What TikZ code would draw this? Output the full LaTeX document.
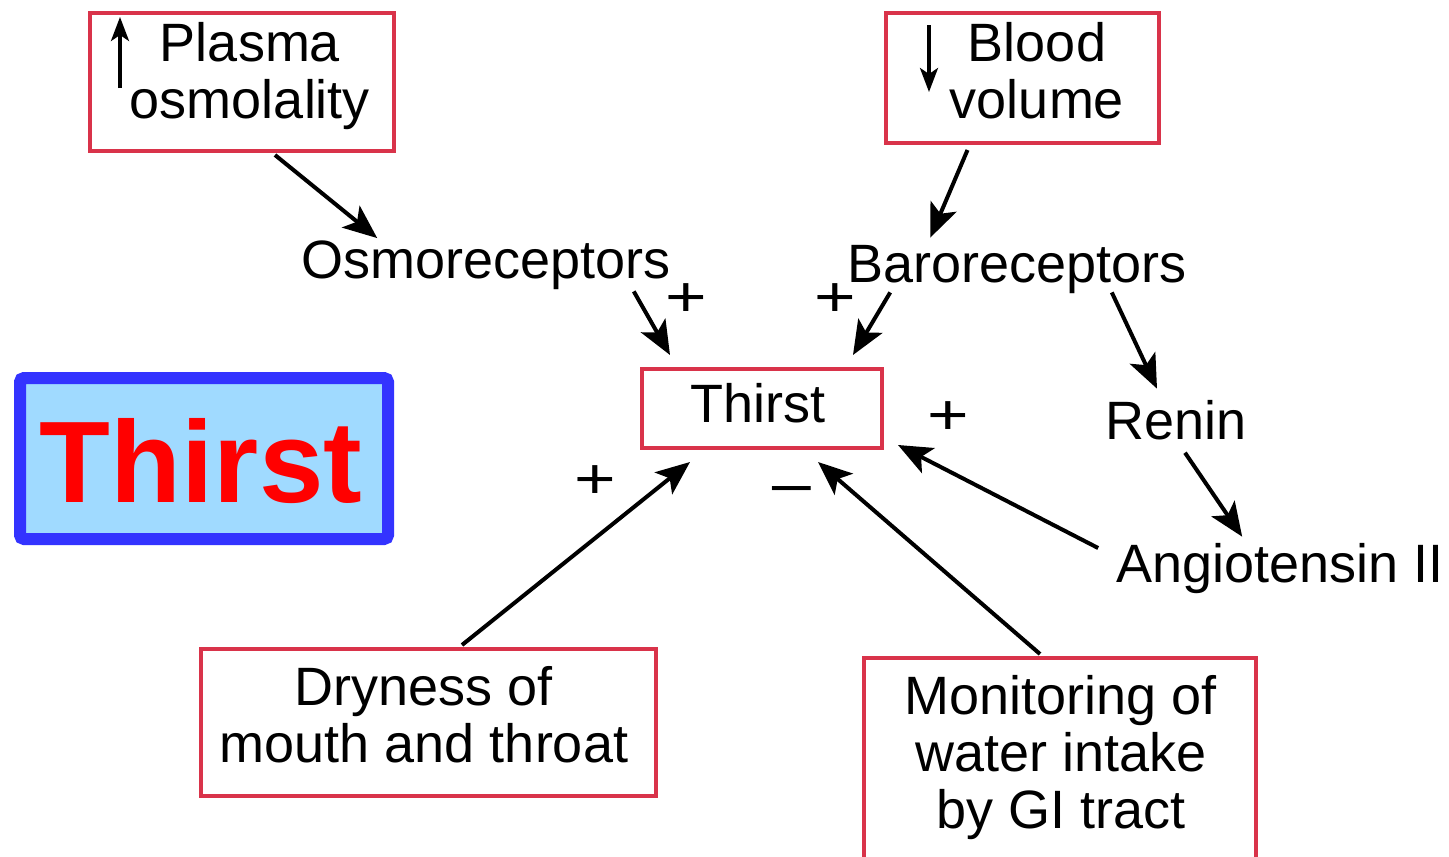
\documentclass[tikz,border=0pt]{standalone}
\usepackage{fontspec}
\setmainfont{Liberation Sans}
\usetikzlibrary{arrows.meta}
\definecolor{boxred}{RGB}{217,51,74}
\definecolor{panelblue}{RGB}{160,218,255}
\definecolor{edgeblue}{RGB}{51,51,255}

\begin{document}
\begin{tikzpicture}[x=1pt,y=-1pt,font=\fontsize{54}{57}\selectfont,
  box/.style={draw=boxred,line width=4pt,inner sep=0pt},
  txt/.style={inner sep=2pt,align=center},
  sgn/.style={inner sep=0pt,font=\fontsize{57}{57}\selectfont},
  arr/.style={line width=4pt,-{Stealth[length=34pt,width=28pt,inset=8pt]}},
  updown/.style={line width=3.5pt,-{Stealth[length=24pt,width=18pt,inset=6pt]}}]
  \useasboundingbox (0,0) rectangle (1449,857);
  \clip (0,0) rectangle (1449,857);
  % boxes
  \node[box,minimum width=304pt,minimum height=138pt] (plasma) at (242,82) {};
  \node[box,minimum width=273pt,minimum height=130pt] (blood) at (1022.5,78) {};
  \node[box,minimum width=240pt,minimum height=79pt] (thirst) at (762,408.5) {};
  \node[box,minimum width=455pt,minimum height=147pt] (dry) at (428.5,722.5) {};
  \node[box,minimum width=392pt,minimum height=240pt] (mon) at (1060,778) {};
  \draw[updown] (120,88) -- (120,17);
  \draw[updown] (929,25) -- (929,92);
  % texts
  \node[txt] (plasmatxt) at (250,76.5) {Plasma\\osmolality};
  \node[txt] (bloodtxt) at (1037,71) {Blood\\volume};
  \node[txt,anchor=base] (thirsttxt) at (758,422) {Thirst};
  \node[txt] (drytxt) at (424,715) {Dryness of\\mouth and throat};
  \node[txt] (montxt) at (1061,758) {Monitoring of\\water intake\\by GI tract};
  \node[txt,anchor=base] (osmo) at (486,278) {Osmoreceptors};
  \node[txt,anchor=base] (baro) at (1017,282) {Baroreceptors};
  \node[txt,anchor=base] (renin) at (1176,439) {Renin};
  \node[txt,anchor=base] (angio) at (1280,582) {Angiotensin II};
  % title panel
  \node[draw=edgeblue,fill=panelblue,line width=12pt,rounded corners=4pt,
    minimum width=368pt,minimum height=161pt] (panel) at (204,458.5) {};
  \node[anchor=base,text=red,font=\bfseries\fontsize{116}{116}\selectfont] (title) at (201,502) {Thirst};
  % arrows
  \draw[arr] ([xshift=33pt,yshift=-2pt]plasma.south) -- ([xshift=78pt]osmo.north west);
  \draw[arr] ([xshift=-55pt,yshift=-5pt]blood.south) -- ([xshift=85pt,yshift=5pt]baro.north west);
  \draw[arr] ([xshift=-39pt]osmo.south east) -- ([xshift=30pt,yshift=12pt]thirst.north west);
  \draw[arr] ([xshift=45pt,yshift=3pt]baro.south west) -- ([xshift=-31pt,yshift=12pt]thirst.north east);
  \draw[arr] ([xshift=-77pt,yshift=3pt]baro.south east) -- ([xshift=-19pt,yshift=9pt]renin.north);
  \draw[arr] ([xshift=9pt,yshift=-11pt]renin.south) -- ([xshift=128pt,yshift=4pt]angio.north west);
  \draw[arr] ([xshift=-16pt,yshift=20pt]angio.west) -- ([xshift=14pt,yshift=5pt]thirst.south east);
  \draw[arr] ([xshift=33.5pt,yshift=2pt]dry.north) -- ([xshift=50pt,yshift=-12pt]thirst.south west);
  \draw[arr] ([xshift=-20pt,yshift=2pt]mon.north) -- ([xshift=56pt,yshift=-12pt]thirst.south);
  % signs
  \foreach \n/\x/\y in {posmo/686/300,pbaro/835/300,pangio/948/418,pdry/595/482}
    \node[sgn] (\n) at (\x,\y) {\scalebox{1.25}[1]{+}};
  \node[sgn] (mmon) at (792,497) {\scalebox{1.4}[1]{−}};
\end{tikzpicture}
\end{document}
